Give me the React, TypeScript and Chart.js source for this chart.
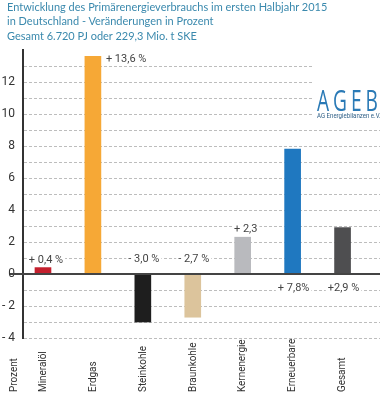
import React, { useEffect, useRef } from "react";
import { Chart, registerables } from "chart.js";

Chart.register(...registerables);

const titleLines = [
  "Entwicklung des Primärenergieverbrauchs im ersten Halbjahr 2015",
  "in Deutschland - Veränderungen in Prozent",
  "Gesamt 6.720 PJ oder 229,3 Mio. t SKE",
];
const categories = ["Mineralöl", "Erdgas", "Steinkohle", "Braunkohle", "Kernenergie", "Erneuerbare", "Gesamt"];
const values = [0.4, 13.6, -3.0, -2.7, 2.3, 7.8, 2.9];
const valueLabels = ["+ 0,4 %", "+ 13,6 %", "- 3,0 %", "- 2,7 %", "+ 2,3", "+ 7,8%", "+2,9 %"];
const labelPlacement = ["above", "right", "aboveZero", "aboveZero", "above", "belowZero", "belowZero"];
const barColors = ["#c4202e", "#f6a836", "#1e1e1e", "#dcc49c", "#b9babe", "#1f78c0", "#4e4e50"];
const yMin = -4;
const yMax = 14;
const axisUnit = "Prozent";

const FONT = 'Roboto, "DejaVu Sans", sans-serif';

export default function App() {
  const ref = useRef<HTMLCanvasElement>(null);

  useEffect(() => {
    if (!ref.current) return;
    const overlay = {
      id: "overlay",
      beforeDatasetsDraw(chart: any) {
        const ctx = chart.ctx;
        const ys = chart.scales.y;
        const { left, right } = chart.chartArea;
        ctx.save();
        ctx.strokeStyle = "#bdbdbd";
        ctx.lineWidth = 1;
        ctx.setLineDash([3, 2]);
        for (let v = yMin; v < yMax; v++) {
          if (v === 0) continue;
          const y = Math.round(ys.getPixelForValue(v)) + 0.5;
          ctx.beginPath();
          ctx.moveTo(left + 1, y);
          ctx.lineTo(right, y);
          ctx.stroke();
        }
        ctx.restore();
      },
      afterDatasetsDraw(chart: any) {
        const ctx = chart.ctx;
        const ys = chart.scales.y;
        const xs = chart.scales.x;
        const y0 = ys.getPixelForValue(0);
        ctx.save();
        // zero line
        ctx.strokeStyle = "#444";
        ctx.lineWidth = 2;
        ctx.beginPath();
        ctx.moveTo(10, y0);
        ctx.lineTo(chart.chartArea.right, y0);
        ctx.stroke();
        // value labels with white knock-out background
        ctx.font = "11px " + FONT;
        ctx.textBaseline = "alphabetic";
        const meta = chart.getDatasetMeta(0);
        meta.data.forEach((bar: any, i: number) => {
          const p = labelPlacement[i];
          const txt = valueLabels[i];
          const half = bar.width / 2;
          const w = ctx.measureText(txt).width;
          let x = bar.x + 1;
          let y = y0 + 17;
          if (p === "right") {
            x = bar.x + half + 5 + w / 2;
            y = bar.y + 6;
          } else if (p === "above") {
            x = bar.x + 3;
            y = bar.y - 5;
          } else if (p === "aboveZero") {
            y = y0 - 12;
          }
          ctx.fillStyle = "#fff";
          ctx.fillRect(x - w / 2 - 2, y - 9, w + 4, 11);
          ctx.fillStyle = "#444";
          ctx.textAlign = "center";
          ctx.fillText(txt, x, y);
        });
        // category labels rotated
        ctx.fillStyle = "#333";
        ctx.font = "11px " + FONT;
        ctx.textAlign = "left";
        ctx.textBaseline = "middle";
        const drawRot = (t: string, x: number) => {
          ctx.save();
          ctx.translate(x, 392);
          ctx.rotate(-Math.PI / 2);
          ctx.scale(0.9, 1);
          ctx.fillText(t, 0, 0);
          ctx.restore();
        };
        categories.forEach((c, i) => drawRot(c, xs.getPixelForValue(i)));
        drawRot(axisUnit, 14);
        ctx.restore();
      },
    };

    const chart = new Chart(ref.current, {
      type: "bar",
      data: {
        datasets: [
          {
            data: values.map((y, i) => ({ x: i, y })),
            backgroundColor: barColors,
            borderWidth: 0,
            barThickness: 16,
          },
        ],
      },
      options: {
        animation: false,
        responsive: false,
        layout: { padding: { top: 50, bottom: 60, left: 0, right: 6 } },
        plugins: { legend: { display: false }, tooltip: { enabled: false } },
        scales: {
          x: {
            type: "linear",
            min: -0.4,
            max: 6.75,
            offset: false,
            display: false,
          },
          y: {
            min: yMin,
            max: yMax,
            afterFit: (s: any) => {
              s.width = 23;
            },
            ticks: {
              stepSize: 2,
              padding: 8,
              color: "#333",
              font: { size: 12, family: FONT },
              callback: (v: any) => {
                const n = Number(v);
                if (n >= yMax) return "";
                if (n < 0) return "- " + Math.abs(n);
                return String(n);
              },
            },
            grid: { display: true, drawTicks: false, color: "rgba(0,0,0,0)" },
            border: { display: true, color: "#333", width: 2 },
          },
        },
      } as any,
      plugins: [overlay],
    });
    return () => chart.destroy();
  }, []);

  return (
    <div style={{ position: "fixed", left: 0, top: 0, width: 386, height: 398, background: "#fff", overflow: "hidden" }}>
      <canvas ref={ref} width={386} height={398} style={{ position: "absolute", left: 0, top: 0, width: 386, height: 398 }} />
      <div
        style={{
          position: "absolute",
          left: 7,
          top: 0,
          fontFamily: 'Lato, "Open Sans", sans-serif',
          fontSize: 12,
          lineHeight: "14.4px",
          color: "#3a89ad",
          whiteSpace: "nowrap",
          transform: "scaleX(0.915)",
          transformOrigin: "left top",
        }}
      >
        {titleLines.map((t, i) => (
          <div key={i}>{t}</div>
        ))}
      </div>
      <div style={{ position: "absolute", left: 312, top: 60, width: 74, height: 58, background: "#fff" }}>
        <div
          style={{
            position: "absolute",
            left: 5,
            top: 25,
            fontFamily: '"Open Sans", sans-serif',
            fontWeight: 400,
            fontSize: 29,
            lineHeight: "29px",
            letterSpacing: 6,
            color: "#2a7ab6",
            transform: "scaleX(0.66)",
            transformOrigin: "left top",
            whiteSpace: "nowrap",
          }}
        >
          AGEB
        </div>
        <div
          style={{
            position: "absolute",
            left: 5,
            top: 52,
            fontFamily: FONT,
            fontSize: 8,
            lineHeight: "8px",
            color: "#2f5f86",
            transform: "scaleX(0.76)",
            transformOrigin: "left top",
            whiteSpace: "nowrap",
          }}
        >
          AG Energiebilanzen e.V.
        </div>
      </div>
    </div>
  );
}
